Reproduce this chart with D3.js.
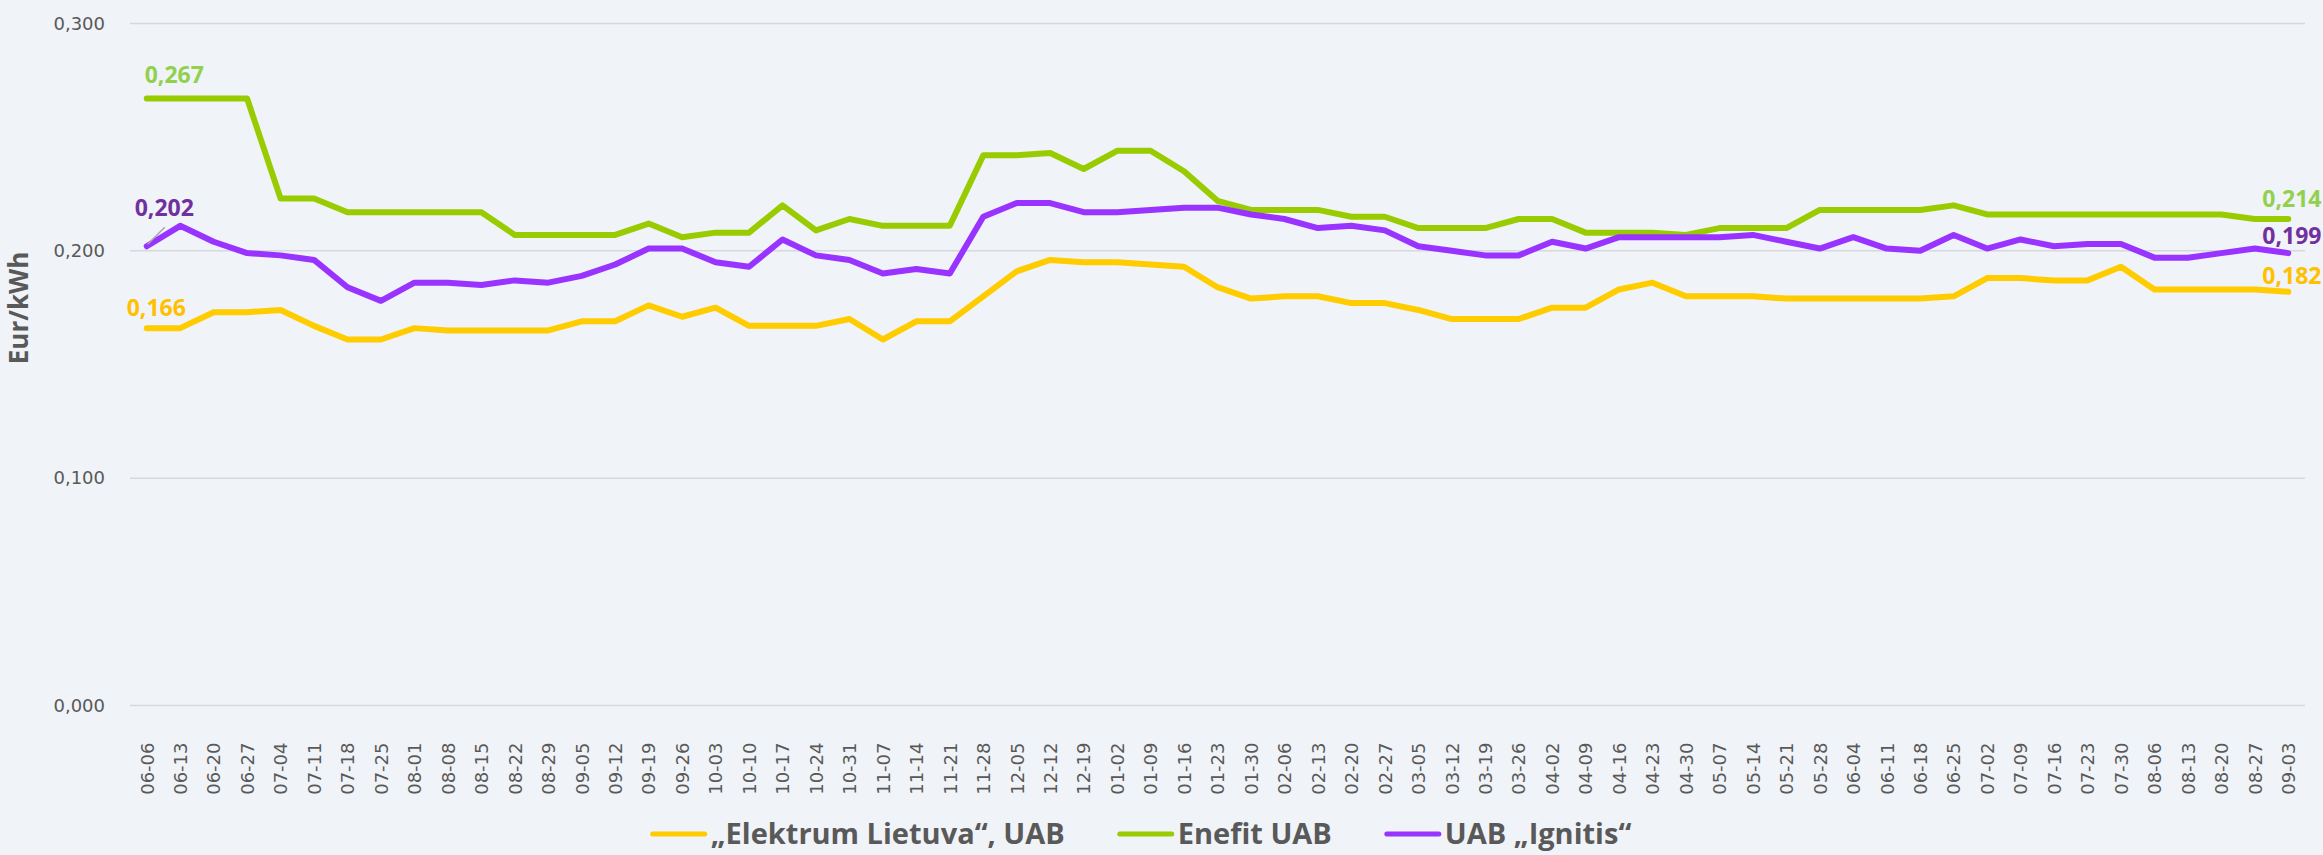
<!DOCTYPE html>
<html>
<head>
<meta charset="utf-8">
<script src="https://cdn.jsdelivr.net/npm/d3@7"></script>
<style>
  html, body { margin: 0; padding: 0; background: #F0F3F7; }
  svg { display: block; }
</style>
</head>
<body>
<svg id="chart" width="2323" height="855"></svg>
<script>
const categories = ["06-06","06-13","06-20","06-27","07-04","07-11","07-18","07-25","08-01","08-08","08-15","08-22","08-29","09-05","09-12","09-19","09-26","10-03","10-10","10-17","10-24","10-31","11-07","11-14","11-21","11-28","12-05","12-12","12-19","01-02","01-09","01-16","01-23","01-30","02-06","02-13","02-20","02-27","03-05","03-12","03-19","03-26","04-02","04-09","04-16","04-23","04-30","05-07","05-14","05-21","05-28","06-04","06-11","06-18","06-25","07-02","07-09","07-16","07-23","07-30","08-06","08-13","08-20","08-27","09-03"];

const elektrum = [0.166,0.166,0.173,0.173,0.174,0.167,0.161,0.161,0.166,0.165,0.165,0.165,0.165,0.169,0.169,0.176,0.171,0.175,0.167,0.167,0.167,0.170,0.161,0.169,0.169,0.180,0.191,0.196,0.195,0.195,0.194,0.193,0.184,0.179,0.180,0.180,0.177,0.177,0.174,0.170,0.170,0.170,0.175,0.175,0.183,0.186,0.180,0.180,0.180,0.179,0.179,0.179,0.179,0.179,0.180,0.188,0.188,0.187,0.187,0.193,0.183,0.183,0.183,0.183,0.182];

const enefit = [0.267,0.267,0.267,0.267,0.223,0.223,0.217,0.217,0.217,0.217,0.217,0.207,0.207,0.207,0.207,0.212,0.206,0.208,0.208,0.220,0.209,0.214,0.211,0.211,0.211,0.242,0.242,0.243,0.236,0.244,0.244,0.235,0.222,0.218,0.218,0.218,0.215,0.215,0.210,0.210,0.210,0.214,0.214,0.208,0.208,0.208,0.207,0.210,0.210,0.210,0.218,0.218,0.218,0.218,0.220,0.216,0.216,0.216,0.216,0.216,0.216,0.216,0.216,0.214,0.214];

const ignitis = [0.202,0.211,0.204,0.199,0.198,0.196,0.184,0.178,0.186,0.186,0.185,0.187,0.186,0.189,0.194,0.201,0.201,0.195,0.193,0.205,0.198,0.196,0.190,0.192,0.190,0.215,0.221,0.221,0.217,0.217,0.218,0.219,0.219,0.216,0.214,0.210,0.211,0.209,0.202,0.200,0.198,0.198,0.204,0.201,0.206,0.206,0.206,0.206,0.207,0.204,0.201,0.206,0.201,0.200,0.207,0.201,0.205,0.202,0.203,0.203,0.197,0.197,0.199,0.201,0.199];

const seriesNames = ["\u201EElektrum Lietuva\u201C, UAB", "Enefit UAB", "UAB \u201EIgnitis\u201C"];
const yTicks = [0, 0.1, 0.2, 0.3];
const yTitle = "Eur/kWh";

const series = [
  { name: seriesNames[0], values: elektrum, color: "#FFCC00", labelColor: "#FFC000" },
  { name: seriesNames[1], values: enefit,   color: "#99CC00", labelColor: "#92D050" },
  { name: seriesNames[2], values: ignitis,  color: "#9933FF", labelColor: "#7030A0" }
];

const svg = d3.select("#chart");
const plotLeft = 130, plotRight = 2305, plotTop = 23.5, plotBottom = 705.5;

const x = d3.scalePoint().domain(categories).range([plotLeft, plotRight]).padding(0.5);
const y = d3.scaleLinear().domain([0, 0.3]).range([plotBottom, plotTop]);
const fmt = v => d3.format(".3f")(v).replace(".", ",");

// gridlines
svg.append("g").selectAll("line").data(yTicks).join("line")
  .attr("x1", plotLeft).attr("x2", plotRight)
  .attr("y1", d => y(d)).attr("y2", d => y(d))
  .attr("stroke", "#D6D8DB").attr("stroke-width", 1.5);

// y axis labels
const yAxis = svg.append("g").attr("transform", `translate(${plotLeft - 22},0)`)
  .call(d3.axisLeft(y).tickValues(yTicks).tickSize(0).tickFormat(fmt));
yAxis.select(".domain").remove();
yAxis.selectAll("text").attr("font-family", "DejaVu Sans").attr("font-size", 18).attr("fill", "#595959");

// x axis labels
const xAxis = svg.append("g").attr("transform", `translate(0,${plotBottom})`)
  .call(d3.axisBottom(x).tickSize(0));
xAxis.select(".domain").remove();
xAxis.selectAll("text")
  .attr("font-family", "DejaVu Sans").attr("font-size", 18).attr("fill", "#595959")
  .attr("text-anchor", "end")
  .attr("transform", "rotate(-90)")
  .attr("x", -37).attr("y", 0).attr("dy", "0.35em");

// y title
svg.append("text")
  .attr("transform", `translate(28,308) rotate(-90)`)
  .attr("text-anchor", "middle")
  .attr("font-family", "Open Sans").attr("font-weight", "bold").attr("font-size", 26)
  .attr("fill", "#595959").text(yTitle);

// lines
const line = d3.line().x((d, i) => x(categories[i])).y(d => y(d));
svg.append("g").selectAll("path").data(series).join("path")
  .attr("d", d => line(d.values))
  .attr("fill", "none").attr("stroke", d => d.color)
  .attr("stroke-width", 6).attr("stroke-linejoin", "round").attr("stroke-linecap", "round");

// leader line for ignitis first label
const last = categories.length - 1;
svg.append("line")
  .attr("x1", x(categories[0]) + 1).attr("y1", y(ignitis[0]) - 2)
  .attr("x2", x(categories[0]) + 18).attr("y2", y(ignitis[0]) - 19)
  .attr("stroke", "#A6A6A6").attr("stroke-width", 1.5);

// data labels
const labelSpec = [
  { s: 0, i: 0, dx: -20, dy: -12 },
  { s: 1, i: 0, dx: -2, dy: -16 },
  { s: 2, i: 0, dx: -12, dy: -30 },
  { s: 0, i: last, dx: -26, dy: -8 },
  { s: 1, i: last, dx: -26, dy: -12 },
  { s: 2, i: last, dx: -26, dy: -9 }
];
svg.append("g").selectAll("text").data(labelSpec).join("text")
  .attr("x", d => x(categories[d.i]) + d.dx)
  .attr("y", d => y(series[d.s].values[d.i]) + d.dy)
  .attr("font-family", "Open Sans").attr("font-weight", "bold").attr("font-size", 23)
  .attr("fill", d => series[d.s].labelColor)
  .text(d => fmt(series[d.s].values[d.i]));

// legend
const lg = svg.append("g");
let cx = 0;
series.forEach((s, k) => {
  const g = lg.append("g").attr("transform", `translate(${cx},0)`);
  g.append("line").attr("x1", 2).attr("x2", 54).attr("y1", 0).attr("y2", 0)
    .attr("stroke", s.color).attr("stroke-width", 5).attr("stroke-linecap", "round");
  const t = g.append("text").attr("x", 60).attr("y", 0).attr("dy", "0.36em")
    .attr("font-family", "Open Sans").attr("font-weight", "bold")
    .attr("font-size", 29).attr("fill", "#595959").text(s.name);
  cx += 60 + t.node().getComputedTextLength() + 53;
});
const lw = cx - 53;
lg.attr("transform", `translate(${1141 - lw / 2},834)`);
</script>
</body>
</html>
